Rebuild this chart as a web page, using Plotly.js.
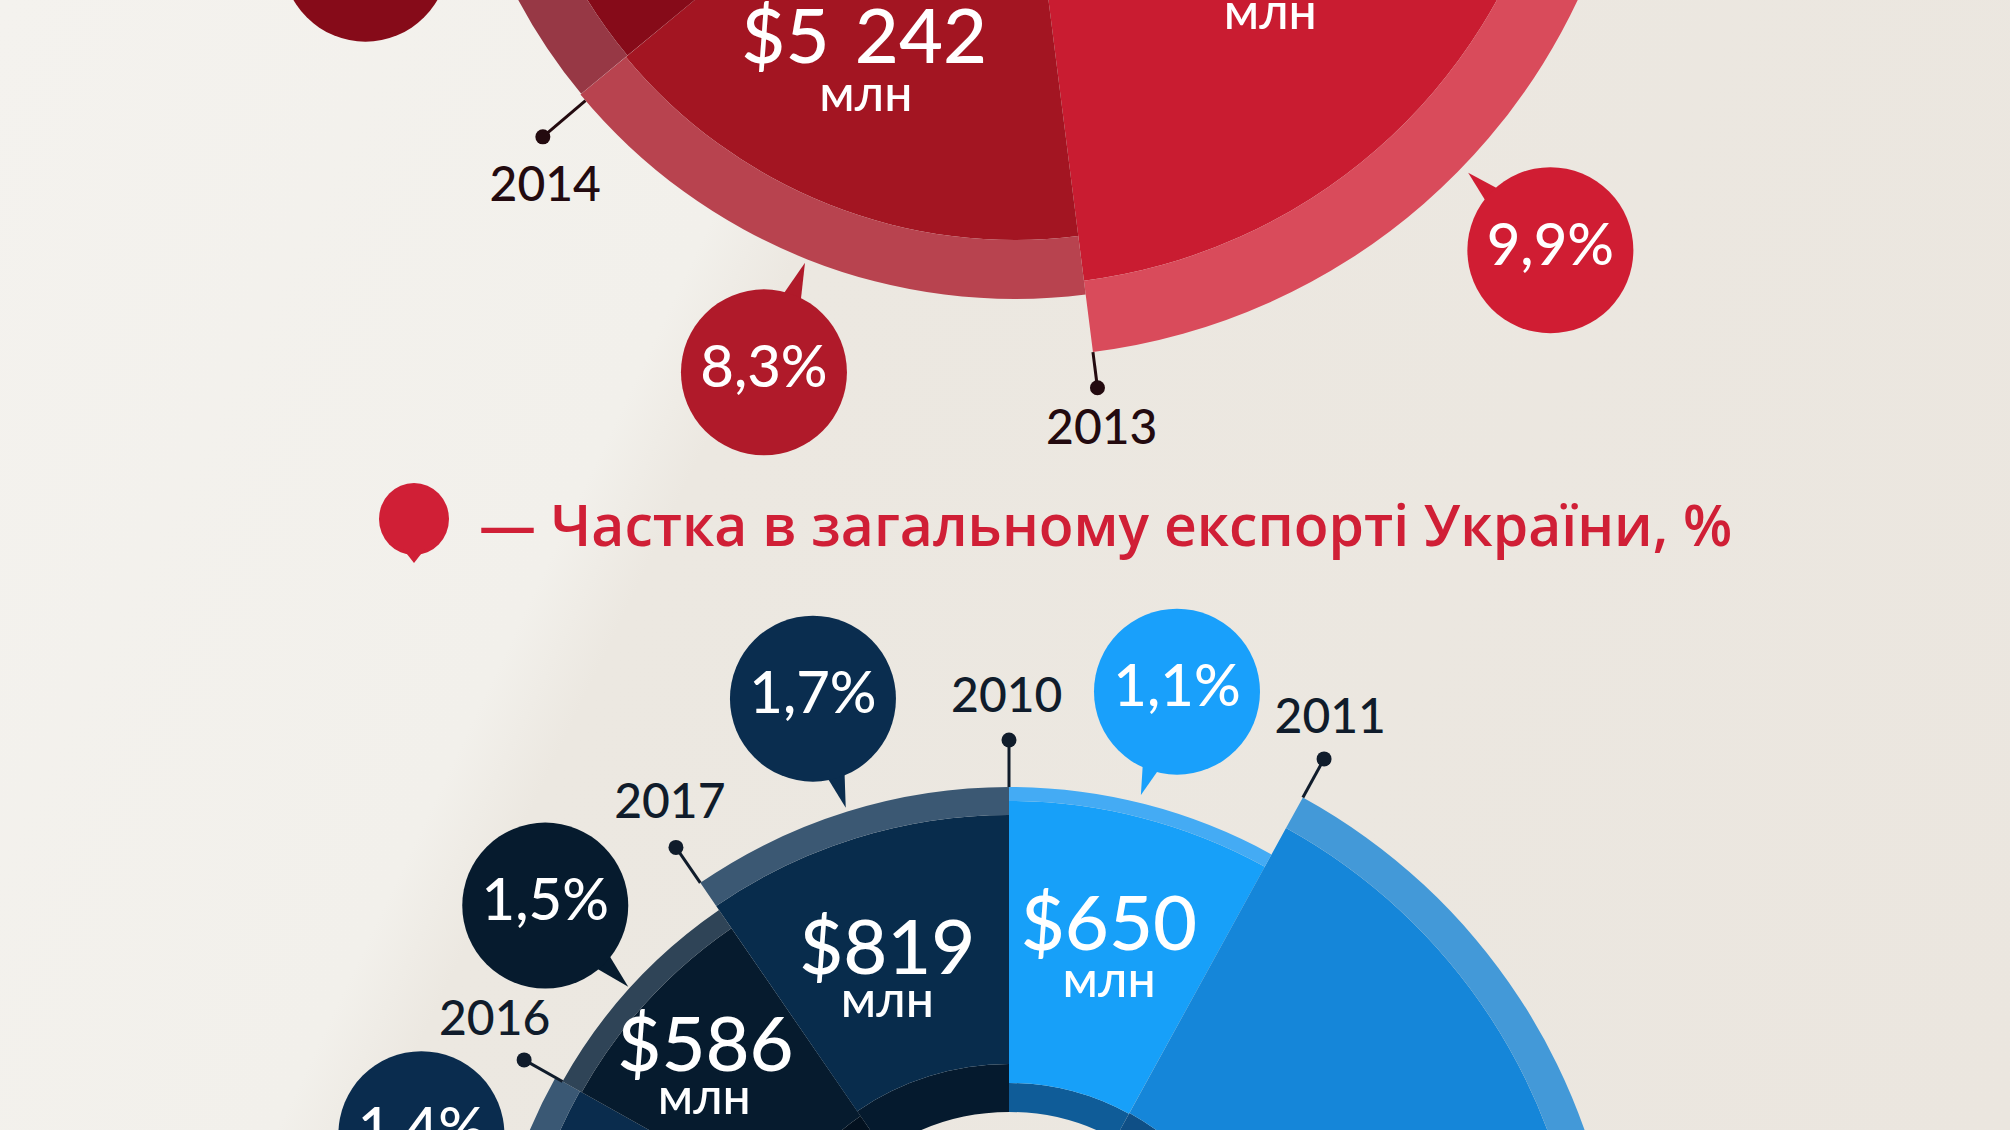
<!DOCTYPE html>
<html>
<head>
<meta charset="utf-8">
<script src="https://cdn.plot.ly/plotly-3.0.1.min.js"></script>
<style>
html,body{margin:0;padding:0;width:2010px;height:1130px;overflow:hidden;background:#ece8e1;}
#wrap{position:absolute;left:0;top:0;width:2010px;height:1130px;overflow:hidden;
  background:linear-gradient(115.5deg,#f4f2ee 0%,#f2f0eb 32%,#ece8e1 36%,#ebe6df 100%);}
#plot{position:absolute;left:0;top:-1165px;width:2010px;height:3400px;}
</style>
</head>
<body>
<div id="wrap"><div id="plot"></div></div>
<script>
// ---------------- DATA ----------------
// Top (red) chart
const redYears  = ['2013', '2014', '2015'];
const redExport = [null, 5242, null];          // $ млн (2013 and 2015 values are outside the frame)
const redShare  = [9.9, 8.3, null];            // % of Ukraine's total export
// Bottom (blue) chart
const blueYears  = ['2010', '2011', '2015', '2016', '2017'];
const blueExport = [650, null, null, 586, 819]; // $ млн
const blueShare  = [1.1, null, 1.4, 1.5, 1.7];  // %
const unitLabel   = 'млн';
const legendLabel = '— Частка в загальному експорті України, %';

// ---------------- GEOMETRY / STYLE ----------------
const W = 2010, H = 3400, SHIFT = 1165, RMAX = 900;
const FONT = 'Lato, "Open Sans", sans-serif';
const LEGEND_FONT = '"Open Sans", Lato, sans-serif';

const redGeo = {
  center: [1015, -265],
  start:  [105, 172.8, 230.4],
  end:    [172.8, 230.4, 285],
  hole: 220, band: [250, 250, 250],
  mainR:  [550, 505, 503],
  outerR: [622, 564, 563],
  main:   ['#c91c31', '#a31522', '#860b19'],
  ring:   ['#d94b5b', '#b8434f', '#973845'],
  bandC:  ['#9e1426', '#7d0f1a', '#600812'],
  bubbleC:['#d01d33', '#b01a2a', '#860b19'],
  bubble: {r: [743, 685, 687], t: [133.9, 201.5, 251.0], tipR: [630, 568, 570], tipT: [134.0, 201.7, 251]},
  lead:   {t: [172.8, null, null], from: [622, null, null], dotR: [658, null, null]},
  leadB:  {t: [null, 229.6, null], from: [null, 564, null], dotR: [null, 620, null]},
  yearTxt:{r: [702, 653, null], t: [172.9, 226.0, null]},
  valTxt: {r: [null, 344, null], t: [null, 206.0, null]},
  unitTxt:{r: [380, 393, null], t: [137.8, 202.3, null]},
  yearColor: '#230a0f'
};
const blueGeo = {
  center: [1009, 1332],
  start:  [0, 28.8, 250, 299.3, 325.5],
  end:    [28.8, 85, 299.3, 325.5, 360],
  hole: 220, band: [249, 250, 262, 262, 268],
  mainR:  [531, 575, 492, 490, 517],
  outerR: [545, 610, 520, 512, 545],
  main:   ['#17a0f9', '#1586d9', '#0a2c4d', '#061b2e', '#082c4c'],
  ring:   ['#44abf4', '#4399d8', '#3a5874', '#2f4457', '#3b5873'],
  bandC:  ['#0f5c98', '#0f4f86', '#051a2e', '#03111f', '#051a2e'],
  bubbleC:['#19a0fb', '#1586d9', '#0a2c4e', '#061b2e', '#0a2d4f'],
  bubble: {r: [662, null, 620, 630, 663], t: [14.7, null, 288.6, 312.6, 342.8],
           tipR: [553, null, 515, 514, 549], tipT: [13.8, null, 289, 312.2, 342.7]},
  lead:   {t: [0, 28.8, null, 299.3, 325.5], from: [545, 610, null, 512, 545], dotR: [592, 654, null, 556, 588]},
  leadB:  null,
  yearTxt:{r: [632, 690, null, 600, 626], t: [359.8, 27.75, null, 301.0, 327.2]},
  valTxt: {r: [413, null, null, 413, 396], t: [14.0, null, null, 312.7, 342.1]},
  unitTxt:{r: [362, null, null, 382, 349], t: [16.05, null, null, 307.1, 339.6]},
  yearColor: '#101c2b'
};

// ---------------- HELPERS ----------------
const fmtMoney = v => '$' + String(v).replace(/\B(?=(\d{3})+(?!\d))/g, '\u2004');
const fmtPct = v => String(v).replace('.', ',') + '%';
const toXY = (r, t) => [r * Math.sin(t * Math.PI / 180), r * Math.cos(t * Math.PI / 180)];
const toRT = (x, y) => [Math.hypot(x, y), (Math.atan2(x, y) * 180 / Math.PI + 360) % 360];
const BUB = 83;

function tail(cR, cT, tR, tT) {
  const [cx, cy] = toXY(cR, cT), [tx, ty] = toXY(tR, tT);
  let dx = tx - cx, dy = ty - cy; const L = Math.hypot(dx, dy); dx /= L; dy /= L;
  const bx = cx + dx * BUB * 0.55, by = cy + dy * BUB * 0.55, hw = 18;
  const pts = [[bx - dy * hw, by + dx * hw], [tx, ty], [bx + dy * hw, by - dx * hw]];
  const rt = pts.map(p => toRT(p[0], p[1]));
  return {r: rt.map(p => p[0]), t: rt.map(p => p[1])};
}

function buildChart(sub, years, exportV, share, g) {
  const tr = [];
  const n = years.length;
  const mid = years.map((_, i) => (g.start[i] + g.end[i]) / 2);
  const wid = years.map((_, i) => g.end[i] - g.start[i]);
  const common = {type: 'barpolar', subplot: sub, theta: mid, width: wid, hoverinfo: 'skip'};
  tr.push(Object.assign({}, common, {base: years.map(() => g.hole), r: years.map((_, i) => g.band[i] - g.hole),
                                      marker: {color: g.bandC, line: {width: 0}}}));
  tr.push(Object.assign({}, common, {base: g.band, r: years.map((_, i) => g.mainR[i] - g.band[i]),
                                      marker: {color: g.main, line: {width: 0}}}));
  tr.push(Object.assign({}, common, {base: g.mainR, r: years.map((_, i) => g.outerR[i] - g.mainR[i]),
                                      marker: {color: g.ring, line: {width: 0}}}));
  // leader lines + dots
  [g.lead, g.leadB].forEach(ld => {
    if (!ld) return;
    for (let i = 0; i < n; i++) {
      if (ld.t[i] == null) continue;
      tr.push({type: 'scatterpolar', subplot: sub, mode: 'lines', r: [ld.from[i], ld.dotR[i]], theta: [ld.t[i], ld.t[i]],
               line: {color: g.yearColor, width: 3}, hoverinfo: 'skip', cliponaxis: false});
      tr.push({type: 'scatterpolar', subplot: sub, mode: 'markers', r: [ld.dotR[i]], theta: [ld.t[i]],
               marker: {color: g.yearColor, size: 15}, hoverinfo: 'skip', cliponaxis: false});
    }
  });
  // year labels
  const yi = years.map((_, i) => i).filter(i => g.yearTxt.r[i] != null);
  tr.push({type: 'scatterpolar', subplot: sub, mode: 'text', r: yi.map(i => g.yearTxt.r[i]), theta: yi.map(i => g.yearTxt.t[i]),
           text: yi.map(i => years[i]), textposition: 'middle center', cliponaxis: false, hoverinfo: 'skip',
           textfont: {family: FONT, size: 48, color: g.yearColor, weight: 500}});
  // value labels
  const vi = years.map((_, i) => i).filter(i => exportV[i] != null && g.valTxt.r[i] != null);
  tr.push({type: 'scatterpolar', subplot: sub, mode: 'text', r: vi.map(i => g.valTxt.r[i]), theta: vi.map(i => g.valTxt.t[i]),
           text: vi.map(i => fmtMoney(exportV[i])), textposition: 'middle center', cliponaxis: false, hoverinfo: 'skip',
           textfont: {family: FONT, size: 76, color: '#ffffff', weight: 500}});
  const ui = years.map((_, i) => i).filter(i => g.unitTxt.r[i] != null);
  tr.push({type: 'scatterpolar', subplot: sub, mode: 'text', r: ui.map(i => g.unitTxt.r[i]), theta: ui.map(i => g.unitTxt.t[i]),
           text: ui.map(() => unitLabel), textposition: 'middle center', cliponaxis: false, hoverinfo: 'skip',
           textfont: {family: FONT, size: 50, color: '#ffffff', weight: 500}});
  // share bubbles
  for (let i = 0; i < n; i++) {
    if (g.bubble.r[i] == null) continue;
    const tp = tail(g.bubble.r[i], g.bubble.t[i], g.bubble.tipR[i], g.bubble.tipT[i]);
    tr.push({type: 'scatterpolar', subplot: sub, mode: 'lines', r: tp.r, theta: tp.t, fill: 'toself',
             fillcolor: g.bubbleC[i], line: {width: 0, color: g.bubbleC[i]}, hoverinfo: 'skip', cliponaxis: false});
  }
  const bi = years.map((_, i) => i).filter(i => g.bubble.r[i] != null);
  tr.push({type: 'scatterpolar', subplot: sub, mode: 'markers+text', r: bi.map(i => g.bubble.r[i]), theta: bi.map(i => g.bubble.t[i]),
           text: bi.map(i => share[i] == null ? '' : fmtPct(share[i])), textposition: 'middle center',
           marker: {size: 2 * BUB, color: bi.map(i => g.bubbleC[i]), line: {width: 0}},
           textfont: {family: FONT, size: 58, color: '#ffffff', weight: 500}, hoverinfo: 'skip', cliponaxis: false});
  return tr;
}

function polarLayout(c) {
  const xc = c[0] / W, yc = 1 - (c[1] + SHIFT) / H;
  const hx = RMAX / W, hy = RMAX / H;
  const cl = v => Math.min(1, Math.max(0, v));
  return {
    domain: {x: [cl(xc - hx), cl(xc + hx)], y: [cl(yc - hy), cl(yc + hy)]},
    bgcolor: 'rgba(0,0,0,0)', barmode: 'overlay', bargap: 0,
    angularaxis: {rotation: 90, direction: 'clockwise', visible: false, showgrid: false, showline: false,
                  showticklabels: false, ticks: ''},
    radialaxis: {range: [0, RMAX], autorange: false, visible: false, showgrid: false, showline: false,
                 showticklabels: false, ticks: ''}
  };
}

const traces = [].concat(
  buildChart('polar', redYears, redExport, redShare, redGeo),
  buildChart('polar2', blueYears, blueExport, blueShare, blueGeo)
);

// legend (drop icon + text), placed in page pixels converted to paper units
const py = y => 1 - (y + SHIFT) / H;
const legendX = 414, legendY = 519;
const layout = {
  width: W, height: H, margin: {l: 0, r: 0, t: 0, b: 0, pad: 0},
  paper_bgcolor: 'rgba(0,0,0,0)', plot_bgcolor: 'rgba(0,0,0,0)', showlegend: false,
  polar: polarLayout(redGeo.center),
  polar2: polarLayout(blueGeo.center),
  shapes: [
    {type: 'circle', xref: 'paper', yref: 'paper', xsizemode: 'pixel', ysizemode: 'pixel',
     xanchor: legendX / W, yanchor: py(legendY), x0: -35, x1: 35, y0: -36, y1: 36,
     fillcolor: '#d01f36', line: {width: 0}},
    {type: 'path', xref: 'paper', yref: 'paper', xsizemode: 'pixel', ysizemode: 'pixel',
     xanchor: legendX / W, yanchor: py(legendY), path: 'M -11,-30 L 0,-44 L 11,-30 Z',
     fillcolor: '#d01f36', line: {width: 0}}
  ],
  annotations: [
    {xref: 'paper', yref: 'paper', x: 477 / W, y: py(524), xanchor: 'left', yanchor: 'middle', showarrow: false,
     text: legendLabel, font: {family: LEGEND_FONT, size: 57, color: '#d01f36', weight: 600}}
  ]
};

Plotly.newPlot('plot', traces, layout, {staticPlot: true, displayModeBar: false});
</script>
</body>
</html>
